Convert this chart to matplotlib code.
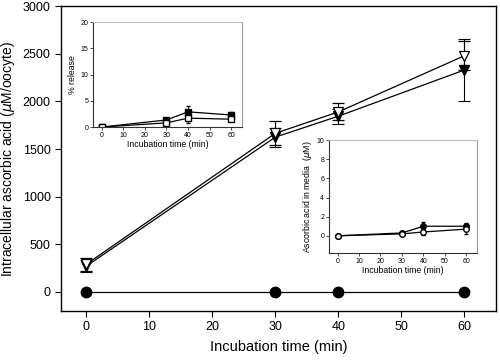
import numpy as np
import matplotlib
matplotlib.use('Agg')
import matplotlib.pyplot as plt

plt.rcParams['font.family'] = ['Liberation Sans', 'DejaVu Sans']

# main panel data
times = [0, 30, 40, 60]
open_tri = [290, 1665, 1890, 2480]
open_tri_err = [70, 125, 90, 150]
filled_tri = [270, 1625, 1845, 2330]
filled_tri_err = [60, 100, 80, 330]
filled_circ = [0, 0, 0, 0]

# inset 1: % release
rel_filled = [0, 1.35, 2.9, 2.3]
rel_filled_err = [0, 0.4, 1.1, 0.5]
rel_open = [0, 0.8, 1.7, 1.5]
rel_open_err = [0, 0.3, 0.9, 0.4]

# inset 2: ascorbic acid in media
med_filled = [0, 0.3, 1.0, 1.0]
med_filled_err = [0, 0.1, 0.4, 0.3]
med_open = [0, 0.2, 0.4, 0.7]
med_open_err = [0, 0.1, 0.3, 0.5]

main_xticks = [0, 10, 20, 30, 40, 50, 60]
main_yticks = [0, 500, 1000, 1500, 2000, 2500, 3000]

fig = plt.figure(figsize=(5, 3.62), dpi=100)
ax = fig.add_axes([0.122, 0.141, 0.87, 0.842])

ax.errorbar(times, open_tri, yerr=open_tri_err, color='black', lw=0.9,
            marker='v', ms=7, mfc='white', mec='black', mew=0.9,
            capsize=4, elinewidth=0.8, capthick=0.8, zorder=3)
ax.errorbar(times, filled_tri, yerr=filled_tri_err, color='black', lw=0.9,
            marker='v', ms=7, mfc='black', mec='black',
            capsize=4, elinewidth=0.8, capthick=0.8, zorder=2)
ax.plot(times, filled_circ, color='black', lw=0.9, marker='o', ms=7.5, zorder=4)

ax.set_xlim(-4, 65)
ax.set_ylim(-200, 3000)
ax.set_xticks(main_xticks)
ax.set_yticks(main_yticks)
ax.tick_params(labelsize=9, direction='out', length=4, width=0.8)
ax.set_xlabel('Incubation time (min)', fontsize=10.5, labelpad=5)
ax.set_ylabel('Intracellular ascorbic acid ($\\mu$M/oocyte)', fontsize=10, labelpad=4)
for s in ax.spines.values():
    s.set_linewidth(1.0)


def style_inset(a):
    a.spines['left'].set_color('#333333')
    a.spines['bottom'].set_color('#333333')
    a.spines['top'].set_color('#bbbbbb')
    a.spines['right'].set_color('#999999')
    for s in a.spines.values():
        s.set_linewidth(0.8)
    a.tick_params(labelsize=5, direction='out', length=2, width=0.5, pad=1.5)
    a.set_xlim(-4, 65)
    a.set_xticks(main_xticks)


# inset 1
ax1 = fig.add_axes([0.186, 0.649, 0.298, 0.290])
ax1.errorbar(times, rel_filled, yerr=rel_filled_err, color='black', lw=0.9,
             marker='s', ms=4, mfc='black', capsize=1.5, elinewidth=0.6)
ax1.errorbar(times, rel_open, yerr=rel_open_err, color='black', lw=0.9,
             marker='s', ms=4, mfc='white', capsize=1.5, elinewidth=0.6)
ax1.set_ylim(0, 20)
ax1.set_yticks([0, 5, 10, 15, 20])
style_inset(ax1)
ax1.set_xlabel('Incubation time (min)', fontsize=6.3, labelpad=1)
ax1.set_ylabel('% release', fontsize=6.3, labelpad=2)

# inset 2
ax2 = fig.add_axes([0.658, 0.301, 0.296, 0.312])
ax2.errorbar(times, med_filled, yerr=med_filled_err, color='black', lw=0.9,
             marker='o', ms=4, mfc='black', capsize=1.5, elinewidth=0.6)
ax2.errorbar(times, med_open, yerr=med_open_err, color='black', lw=0.9,
             marker='o', ms=4, mfc='white', capsize=1.5, elinewidth=0.6)
ax2.set_ylim(-1.8, 10)
ax2.set_yticks([0, 2, 4, 6, 8, 10])
style_inset(ax2)
ax2.set_xlabel('Incubation time (min)', fontsize=6.3, labelpad=1)
ax2.set_ylabel('Ascorbic acid in media  ($\\mu$M)', fontsize=6.3, labelpad=2)

fig.savefig('out.png', dpi=100)
